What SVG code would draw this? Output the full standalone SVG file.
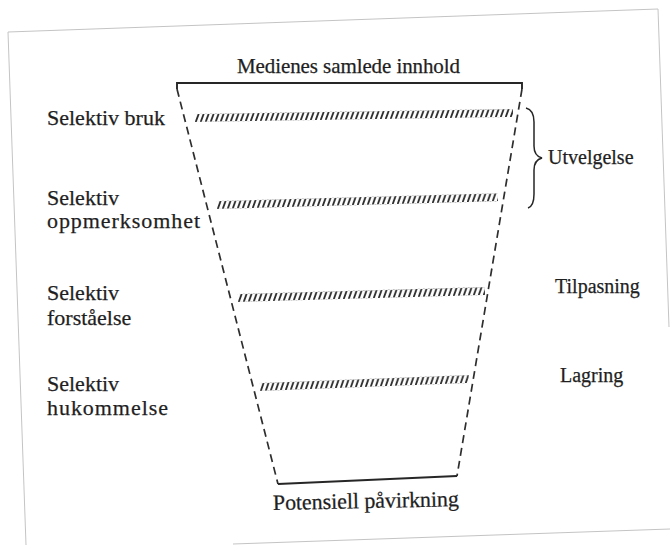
<svg xmlns="http://www.w3.org/2000/svg" width="670" height="545" viewBox="0 0 670 545">
  <style>
    .t { font-family: "Liberation Serif", "DejaVu Serif", serif; fill: #1f1f1f; stroke: #1f1f1f; stroke-width: 0.25; }
    .l { font-size: 22px; }
    .r { font-size: 20px; }
    .edge { stroke: #c4c4c4; stroke-width: 1; fill: none; }
    .side { stroke: #2e2e2e; stroke-width: 1.7; fill: none; stroke-dasharray: 8 5; }
    .solid { stroke: #262626; stroke-width: 1.9; fill: none; }
  </style>
  <defs>
    <pattern id="hatch" patternUnits="userSpaceOnUse" x="0" y="-4" width="5" height="8">
      <line x1="0.8" y1="7.6" x2="3.6" y2="0.4" stroke="#2a2a2a" stroke-width="1.8" stroke-linecap="round"/>
    </pattern>
  </defs>
  <rect width="670" height="545" fill="#fff"/>

  <g id="page-edges">
    <line class="edge" x1="8" y1="32" x2="658" y2="9"/>
    <line class="edge" x1="8" y1="32" x2="26" y2="545"/>
    <line class="edge" x1="658" y1="9" x2="669" y2="327"/>
    <line class="edge" x1="233" y1="544" x2="670" y2="529"/>
  </g>

  <g id="funnel">
    <path class="solid" d="M177,89 L177,83 L522,83 L522,89"/>
    <line class="side" x1="177" y1="89" x2="278" y2="484"/>
    <line class="side" x1="522" y1="89" x2="457" y2="476"/>
    <line class="solid" x1="278" y1="484" x2="457" y2="476"/>
  </g>

  <g id="filters">
    <rect x="0" y="-4" width="318" height="8" fill="url(#hatch)" transform="translate(195,118) rotate(-0.9)"/>
    <rect x="0" y="-4" width="281" height="8" fill="url(#hatch)" transform="translate(217,205) rotate(-1.6)"/>
    <rect x="0" y="-4" width="247" height="8" fill="url(#hatch)" transform="translate(238,298) rotate(-1.6)"/>
    <rect x="0" y="-4" width="209" height="8" fill="url(#hatch)" transform="translate(260,387) rotate(-2.2)"/>
  </g>

  <g id="connectors">
    <path d="M526,108 Q534,110 534,122 L534,146 Q534,156 542,158 Q534,160 534,170 L534,194 Q534,206 528,208" fill="none" stroke="#262626" stroke-width="1.5"/>
  </g>

  <g id="title">
    <text class="t" x="237" y="73" font-size="21" textLength="223">Medienes samlede innhold</text>
  </g>
  <g id="bottom-label">
    <text class="t l" x="273" y="510" textLength="186" transform="rotate(-1.2 273 510)">Potensiell påvirkning</text>
  </g>

  <g id="selektiv-bruk">
    <text class="t l" x="47" y="125">Selektiv bruk</text>
  </g>
  <g id="selektiv-oppmerksomhet">
    <text class="t l" x="47" y="205">Selektiv</text>
    <text class="t l" x="47" y="228" textLength="153">oppmerksomhet</text>
  </g>
  <g id="selektiv-forstaelse">
    <text class="t l" x="47" y="300">Selektiv</text>
    <text class="t l" x="47" y="325">forståelse</text>
  </g>
  <g id="selektiv-hukommelse">
    <text class="t l" x="47" y="391">Selektiv</text>
    <text class="t l" x="47" y="415" textLength="121">hukommelse</text>
  </g>

  <g id="utvelgelse">
    <text class="t r" x="548" y="164">Utvelgelse</text>
  </g>
  <g id="tilpasning">
    <text class="t r" x="555" y="293">Tilpasning</text>
  </g>
  <g id="lagring">
    <text class="t r" x="560" y="382">Lagring</text>
  </g>
</svg>
